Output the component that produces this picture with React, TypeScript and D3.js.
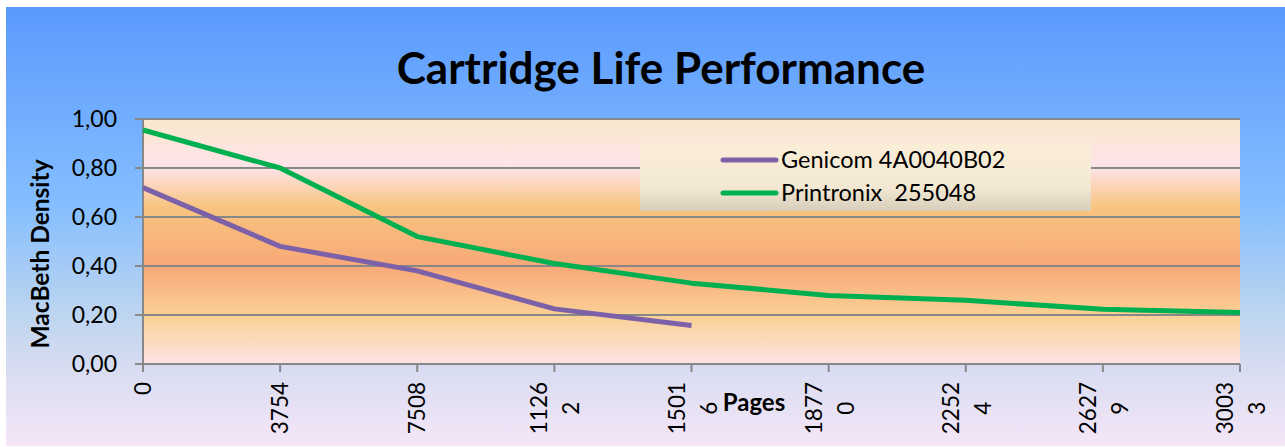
import React, { useRef, useEffect } from 'react';
import * as d3 from 'd3';

const pages = ['0', '3754', '7508', '11262', '15016', '18770', '22524', '26279', '30033'];
const genicom = [0.72, 0.48, 0.38, 0.225, 0.157];
const printronix = [0.955, 0.80, 0.52, 0.41, 0.33, 0.28, 0.26, 0.223, 0.21];
const yTicks = [0, 0.2, 0.4, 0.6, 0.8, 1.0];
const seriesNames = ['Genicom 4A0040B02', 'Printronix  255048'];
const seriesColors = ['#7D61A8', '#00B050'];

const W = 1285;
const H = 447;
const FONT = 'Lato, "Open Sans", sans-serif';

const App = () => {
  const svgRef = useRef<SVGSVGElement>(null);

  useEffect(() => {
    const svg = d3.select(svgRef.current);
    svg.selectAll('*').remove();

    const defs = svg.append('defs');

    // outer background
    const bg = defs.append('linearGradient').attr('id', 'bgGrad')
      .attr('x1', 0).attr('y1', 0).attr('x2', 0).attr('y2', 1);
    [[0, '#5A9AFE'], [0.45, '#85BEFF'], [0.7, '#BDD5EF'], [0.85, '#DDDEF2'], [1, '#F5E6F8']]
      .forEach(([o, c]) => bg.append('stop').attr('offset', o as number).attr('stop-color', c as string));

    // plot area peach gradient
    const pg = defs.append('linearGradient').attr('id', 'plotGrad')
      .attr('x1', 0).attr('y1', 0).attr('x2', 0).attr('y2', 1);
    [[0, '#FAE8CF'], [0.2, '#FDE3E8'], [0.36, '#F8C47F'], [0.6, '#F8A878'], [0.8, '#FAD094'], [1, '#FDE3E4']]
      .forEach(([o, c]) => pg.append('stop').attr('offset', o as number).attr('stop-color', c as string));

    // legend gradient
    const lg = defs.append('linearGradient').attr('id', 'legGrad')
      .attr('x1', 0).attr('y1', 0).attr('x2', 0).attr('y2', 1);
    [[0, '#FAEED9'], [0.65, '#F3E8D2'], [1, '#D7CEBB']]
      .forEach(([o, c]) => lg.append('stop').attr('offset', o as number).attr('stop-color', c as string));

    svg.append('rect').attr('x', 6).attr('y', 7).attr('width', W - 6).attr('height', H - 8)
      .attr('fill', 'url(#bgGrad)');

    const left = 143, right = 1240, top = 119, bottom = 364;

    const x = d3.scalePoint<string>().domain(pages).range([left, right]);
    const y = d3.scaleLinear().domain([0, 1]).range([bottom, top]);

    svg.append('rect').attr('x', left).attr('y', top)
      .attr('width', right - left).attr('height', bottom - top)
      .attr('fill', 'url(#plotGrad)');

    // gridlines
    svg.append('g').selectAll('line').data(yTicks).enter().append('line')
      .attr('x1', left - 8).attr('x2', right)
      .attr('y1', d => y(d)).attr('y2', d => y(d))
      .attr('stroke', '#888').attr('stroke-width', 2);

    // y axis line
    svg.append('line').attr('x1', left).attr('x2', left).attr('y1', top).attr('y2', bottom)
      .attr('stroke', '#888').attr('stroke-width', 2);

    // x tick marks
    svg.append('g').selectAll('line').data(pages).enter().append('line')
      .attr('x1', d => x(d)!).attr('x2', d => x(d)!)
      .attr('y1', bottom).attr('y2', bottom + 8)
      .attr('stroke', '#888').attr('stroke-width', 2);

    // y tick labels
    svg.append('g').selectAll('text').data(yTicks).enter().append('text')
      .attr('x', 117).attr('y', d => y(d))
      .attr('dy', '0.36em')
      .attr('text-anchor', 'end')
      .attr('font-family', FONT).attr('font-size', 23).attr('fill', '#000')
      .text(d => d3.format('.2f')(d).replace('.', ','));

    // x tick labels: wrapped after 4 chars, rotated, lines centred on each other
    pages.forEach(p => {
      const cx = x(p)!;
      const lines = p.length > 4 ? [p.slice(0, 4), p.slice(4)] : [p];
      const g = svg.append('g');
      const texts = lines.map((t, i) => {
        const off = lines.length === 1 ? 0 : (i === 0 ? -15 : 17);
        return g.append('text')
          .attr('dy', '0.36em')
          .attr('text-anchor', 'middle')
          .attr('font-family', FONT).attr('font-size', 22.5).attr('fill', '#000')
          .attr('data-off', off)
          .text(t);
      });
      const maxW = d3.max(texts, t => (t.node() as SVGTextElement).getComputedTextLength()) || 0;
      texts.forEach(t => {
        const off = +t.attr('data-off');
        t.attr('transform', `translate(${cx + off},${382 + maxW / 2}) rotate(-90)`);
      });
    });

    // axis titles
    svg.append('text')
      .attr('x', 754).attr('y', 402).attr('dy', '0.36em')
      .attr('text-anchor', 'middle')
      .attr('font-family', FONT).attr('font-weight', 'bold').attr('font-size', 24)
      .text('Pages');

    svg.append('text')
      .attr('transform', 'translate(40,254) rotate(-90)')
      .attr('dy', '0.36em')
      .attr('text-anchor', 'middle')
      .attr('font-family', FONT).attr('font-weight', 'bold').attr('font-size', 24.5)
      .text('MacBeth Density');

    // title
    svg.append('text')
      .attr('x', 661).attr('y', 84)
      .attr('text-anchor', 'middle')
      .attr('font-family', FONT).attr('font-weight', 'bold').attr('font-size', 44)
      .text('Cartridge Life Performance');

    // series lines
    const line = d3.line<number>()
      .x((_, i) => x(pages[i])!)
      .y(d => y(d));

    [genicom, printronix].forEach((s, i) => {
      svg.append('path')
        .datum(s)
        .attr('d', line)
        .attr('fill', 'none')
        .attr('stroke', seriesColors[i])
        .attr('stroke-width', 5)
        .attr('stroke-linejoin', 'round');
    });

    // legend
    const leg = svg.append('g');
    leg.append('rect').attr('x', 640).attr('y', 143).attr('width', 451).attr('height', 68)
      .attr('fill', 'url(#legGrad)');
    seriesNames.forEach((n, i) => {
      const ly = 160 + i * 33;
      leg.append('line').attr('x1', 723).attr('x2', 776).attr('y1', ly).attr('y2', ly)
        .attr('stroke', seriesColors[i]).attr('stroke-width', 5).attr('stroke-linecap', 'round');
      leg.append('text').attr('x', 781).attr('y', ly).attr('dy', '0.36em')
        .attr('font-family', FONT).attr('font-size', 23.5).attr('fill', '#000')
        .style('white-space', 'pre')
        .text(n);
    });
  }, []);

  return (
    <svg ref={svgRef} width={W} height={H}
      style={{ position: 'absolute', left: 0, top: 0, display: 'block' }} />
  );
};

export default App;
